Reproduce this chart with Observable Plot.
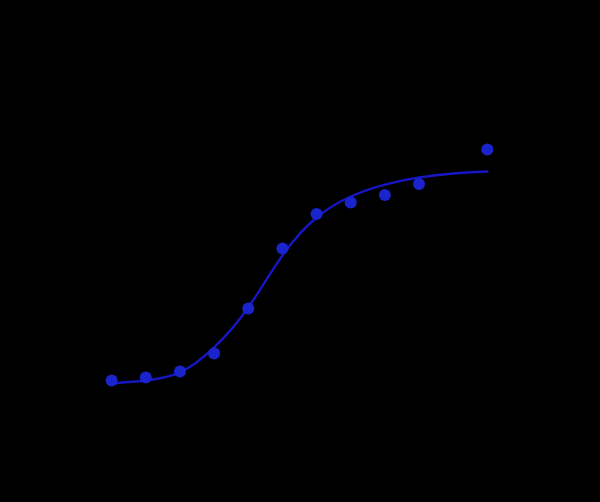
<!DOCTYPE html>
<html>
<head>
<meta charset="utf-8">
<script src="https://cdn.jsdelivr.net/npm/d3@7"></script>
<script src="https://cdn.jsdelivr.net/npm/@observablehq/plot@0.6"></script>
<style>
  html, body { margin: 0; padding: 0; background: #000; }
  #chart svg { display: block; background: #000; }
</style>
</head>
<body>
<div id="chart"></div>
<script>
// Measured points (concentration, two-fold dilution series; response)
const concentrations = [0.1, 0.2, 0.4, 0.8, 1.6, 3.2, 6.4, 12.8, 25.6, 51.2, 204.8];
const responses = [0.526, 0.558, 0.621, 0.811, 1.284, 1.916, 2.279, 2.400, 2.479, 2.595, 2.958];

// Fitted curve at each dilution step
const curveX = [0.1, 0.2, 0.4, 0.8, 1.6, 3.2, 6.4, 12.8, 25.6, 51.2, 102.4, 204.8];
const curveY = [0.495, 0.526, 0.611, 0.874, 1.295, 1.842, 2.242, 2.463, 2.589, 2.663, 2.705, 2.726];

const points = concentrations.map((c, i) => ({x: c, y: responses[i]}));
const curve = curveX.map((c, i) => ({x: c, y: curveY[i]}));

const chart = Plot.plot({
  width: 600,
  height: 502,
  marginLeft: 77,
  marginRight: 79,
  marginTop: 50,
  marginBottom: 72,
  style: {background: "#000"},
  x: {type: "log", domain: [0.05, 409.6], axis: null},
  y: {domain: [0, 4], axis: null},
  marks: [
    Plot.line(curve, {x: "x", y: "y", curve: "natural", stroke: "#1616c4", strokeWidth: 2.4}),
    Plot.dot(points, {x: "x", y: "y", r: 6, fill: "#1a24cc", stroke: "none"})
  ]
});
document.getElementById("chart").appendChild(chart);
</script>
</body>
</html>
